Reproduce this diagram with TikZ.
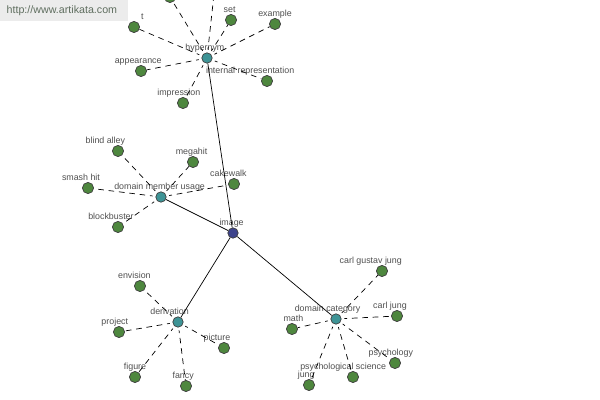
\documentclass[tikz,border=0pt]{standalone}
\usepackage{fontspec}
\setmainfont{Liberation Sans}
\usepackage{xcolor}
\usepackage{tikz}
\usetikzlibrary{arrows.meta,positioning,calc}

\definecolor{leafgreen}{RGB}{78,135,62}
\definecolor{hubteal}{RGB}{62,148,150}
\definecolor{rootblue}{RGB}{62,68,140}
\definecolor{labelgray}{RGB}{80,80,80}
\definecolor{markgray}{RGB}{236,236,236}
\definecolor{marktext}{RGB}{95,110,95}

\begin{document}
\begin{tikzpicture}[
  x=0.025cm,y=-0.025cm,
  lbl/.style={font=\fontsize{6.3}{7}\selectfont,text=labelgray,inner sep=0pt,
              text height=4.6pt,text depth=1.2pt},
  leaf/.style={circle,draw=black!75,fill=leafgreen,minimum size=0.28cm,inner sep=0pt,
               line width=0.5pt,label distance=1.2pt},
  hub/.style={leaf,fill=hubteal,minimum size=0.26cm},
  root/.style={leaf,fill=rootblue,minimum size=0.26cm},
  spoke/.style={dash pattern=on 4pt off 3.4pt,dash phase=2pt,line width=0.5pt,
                shorten <=2pt},
  link/.style={line width=0.5pt}
]
\useasboundingbox[fill=white] (0,0) rectangle (600,400);
\begin{scope}
\clip (0,0) rectangle (600,400);
% centre and hubs
\node[root,label={[lbl,xshift=-1]above:image}] (image) at (233,233) {};
\node[hub,label={[lbl,xshift=-1.5]above:hypernym}] (hyper) at (207,58) {};
\node[hub,label={[lbl,xshift=-1]above:domain member usage}] (dmu) at (161,197) {};
\node[hub,label={[lbl,xshift=-6]above:derivation}] (deriv) at (178,322) {};
\node[hub,label={[lbl,xshift=-6]above:domain category}] (dcat) at (336,319) {};
% hypernym
\node[leaf] (topa) at (170,-3) {};
\node[leaf] (topb) at (216,-24) {};
\node[leaf,label={[lbl,xshift=6]above:t}] (tnode) at (134,27) {};
\node[leaf,label={[lbl,xshift=-1]above:set}] (set) at (231,20) {};
\node[leaf,label={[lbl]above:example}] (example) at (275,24) {};
\node[leaf,label={[lbl,xshift=-2]above:appearance}] (appear) at (141,71) {};
\node[leaf,label={[lbl,xshift=-12]above:internal representation}] (intrep) at (267,81) {};
\node[leaf,label={[lbl,xshift=-3]above:impression}] (impress) at (183,103) {};
% domain member usage
\node[leaf,label={[lbl,xshift=-9]above:blind alley}] (blind) at (118,151) {};
\node[leaf,label={[lbl,xshift=-1]above:megahit}] (megahit) at (193,162) {};
\node[leaf,label={[lbl,xshift=-4]above:cakewalk}] (cakewalk) at (234,184) {};
\node[leaf,label={[lbl,xshift=-5]above:smash hit}] (smash) at (88,188) {};
\node[leaf,label={[lbl,xshift=-5]above:blockbuster}] (blockb) at (118,227) {};
% derivation
\node[leaf,label={[lbl,xshift=-4]above:envision}] (envision) at (140,286) {};
\node[leaf,label={[lbl,xshift=-3]above:project}] (project) at (119,332) {};
\node[leaf,label={[lbl,xshift=-5]above:picture}] (picture) at (224,348) {};
\node[leaf,label={[lbl]above:figure}] (figure) at (135,377) {};
\node[leaf,label={[lbl,xshift=-2]above:fancy}] (fancy) at (186,386) {};
% domain category
\node[leaf,label={[lbl,xshift=-8]above:carl gustav jung}] (cgjung) at (382,271) {};
\node[leaf,label={[lbl,xshift=-5]above:carl jung}] (cjung) at (397,316) {};
\node[leaf,label={[lbl,xshift=1]above:math}] (math) at (292,329) {};
\node[leaf,label={[lbl,xshift=-3]above:psychology}] (psych) at (395,363) {};
\node[leaf,label={[lbl,xshift=-7]above:psychological science}] (psysci) at (353,377) {};
\node[leaf,label={[lbl,xshift=-2]above:jung}] (jung) at (309,385) {};

\draw[link] (image)--(hyper);
\draw[link] (image)--(dmu);
\draw[link] (image)--(deriv);
\draw[link] (image)--(dcat);
\foreach \n in {topa,topb,tnode,set,example,appear,intrep,impress}
  \draw[spoke] (hyper)--(\n);
\foreach \n in {blind,megahit,cakewalk,smash,blockb}
  \draw[spoke] (dmu)--(\n);
\foreach \n in {envision,project,picture,figure,fancy}
  \draw[spoke] (deriv)--(\n);
\foreach \n in {cgjung,cjung,math,psych,psysci,jung}
  \draw[spoke] (dcat)--(\n);
\end{scope}

% site mark
\node[fill=markgray,anchor=north west,minimum width=3.2cm,minimum height=0.52cm,
      inner sep=0pt,font=\fontsize{7.6}{9}\selectfont,text=marktext] (mark) at (0,0)
      {\hspace*{-0.12cm}http://www.artikata.com};
\end{tikzpicture}
\end{document}
